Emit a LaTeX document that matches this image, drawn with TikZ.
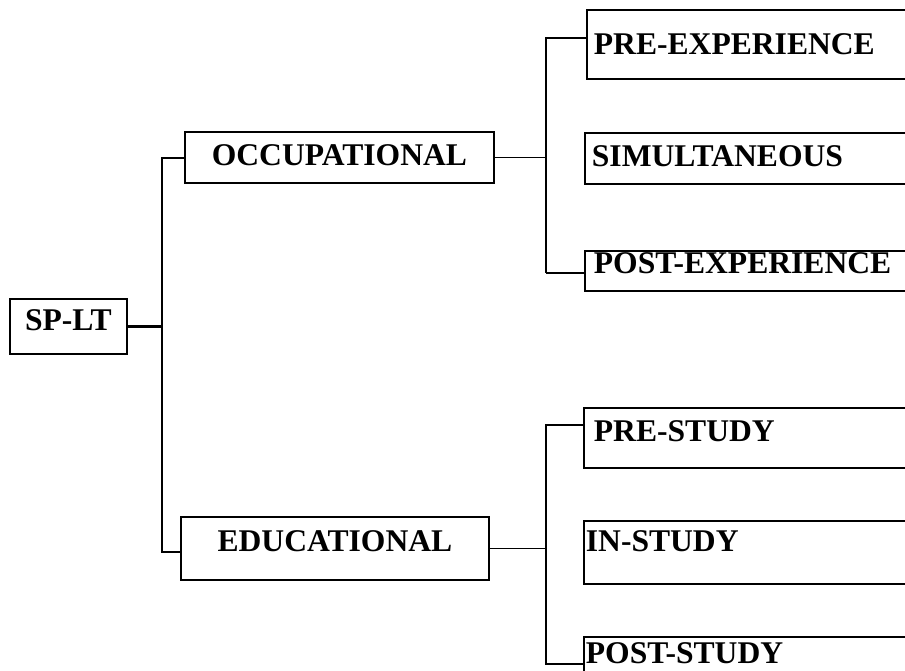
\documentclass[tikz,border=0pt]{standalone}
\usepackage{fontspec}
\setmainfont{Liberation Serif}
\begin{document}
\begin{tikzpicture}[x=1pt, y=-1pt,
    box/.style={rectangle, draw, line width=1.8pt, anchor=north west, inner ysep=0pt, font=\bfseries\fontsize{31.6}{34}\selectfont},
    leaf/.style={box, align=left, text width=340pt},
    link/.style={line width=1.3pt},
    heavy/.style={line width=2.6pt}
]
\useasboundingbox (0,0) rectangle (905,671);
\clip (0,0) rectangle (905,671);

% Root box
\node[box, minimum width=117pt, text height=32pt, text depth=23pt] (splt) at (9,298) {SP-LT};

% Two branches
\node[box, minimum width=309pt, text height=34pt, text depth=17pt] (occ) at (184,131) {OCCUPATIONAL};
\node[box, minimum width=308pt, text height=35pt, text depth=28pt] (edu) at (180,516) {EDUCATIONAL};

% Occupational leaves
\node[leaf, inner xsep=7pt, text height=45pt, text depth=24pt] (pexp) at (586,9) {PRE-EXPERIENCE};
\node[leaf, inner xsep=7pt, text height=34pt, text depth=17pt] (sim) at (584,132) {SIMULTANEOUS};
\node[leaf, inner xsep=9pt, text height=23pt, text depth=17pt] (postexp) at (584,250) {POST-EXPERIENCE};

% Educational leaves
\node[leaf, inner xsep=10pt, text height=34pt, text depth=26pt] (pstudy) at (583,407) {PRE-STUDY};
\node[leaf, inner xsep=2pt, text height=31pt, text depth=32pt] (instudy) at (583,520) {IN-STUDY};
\node[leaf, inner xsep=2pt, text height=27pt, text depth=50pt] (poststudy) at (583,636) {POST-STUDY};

% Fork points
\coordinate (f1top) at (162,158);
\coordinate (f1bot) at (162,552);
\coordinate (f2top) at (546,38);
\coordinate (f2bot) at (546,273);
\coordinate (f3top) at (546,425);
\coordinate (f3bot) at (546,664);

% Connectors
\draw[heavy] (splt.east) -- (splt.east -| f1top);
\draw[link] (occ.west |- f1top) -- (f1top) -- (f1bot) -- (edu.west |- f1bot);
\draw[link] (occ.east) -- (occ.east -| f2top);
\draw[link] (pexp.west |- f2top) -- (f2top) -- (f2bot);
\draw[heavy] (f2bot) -- (postexp.west |- f2bot);
\draw[link] (edu.east) -- (edu.east -| f3top);
\draw[link] (pstudy.west |- f3top) -- (f3top) -- (f3bot) -- (poststudy.west |- f3bot);
\end{tikzpicture}
\end{document}
